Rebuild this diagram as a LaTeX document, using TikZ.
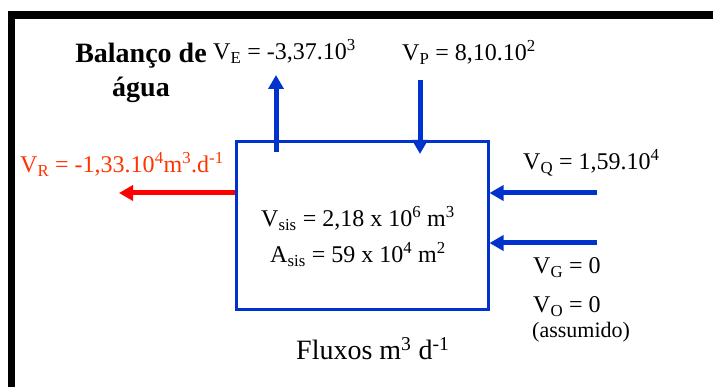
\documentclass[tikz,border=0pt]{standalone}
\usepackage{fontspec}
\setmainfont{Liberation Serif}
\usetikzlibrary{arrows.meta}
\definecolor{lakeblue}{RGB}{0,51,204}
\definecolor{outred}{RGB}{255,0,0}
\definecolor{labelred}{RGB}{255,51,0}
\newcommand{\sub}[1]{\textsubscript{#1}}
\newcommand{\sups}[1]{\textsuperscript{#1}}

\begin{document}
\begin{tikzpicture}[x=1pt,y=-1pt,
    inflow/.style={line width=5pt,draw=lakeblue,-{Triangle[width=15pt,length=14pt]}},
    outflow/.style={line width=5pt,draw=outred,-{Triangle[width=15pt,length=14pt]}},
    lbl/.style={anchor=base west},
    big/.style={font=\fontsize{28}{34}\selectfont}]
		\tikzstyle{every node}=[inner sep=0pt,font=\fontsize{24}{29}\selectfont]
		\useasboundingbox (0,0) rectangle (713,387);
		% frame
		\draw[line width=7.5pt] (11.5,387) -- (11.5,15) -- (713,15);
		% the system
		\node[draw=lakeblue,line width=3pt,minimum width=252pt,minimum height=168pt] (sis) at (362,226) {};
		\node[anchor=base] (vsis) at (358,227) {V\sub{sis} = 2,18 x 10\sups{6} m\sups{3}};
		\node[anchor=base] (asis) at (358,263) {A\sub{sis} = 59 x 10\sups{4} m\sups{2}};
		% labels
		\node[anchor=base,align=center,font=\bfseries\fontsize{28}{34}\selectfont] (title) at (141,97) {Balanço de\\água};
		\node[lbl] (ve) at (213,60) {V\sub{E} = -3,37.10\sups{3}};
		\node[lbl] (vp) at (402,61) {V\sub{P} = 8,10.10\sups{2}};
		\node[lbl,text=labelred] (vr) at (20,173) {V\sub{R} = -1,33.10\sups{4}m\sups{3}.d\sups{-1}};
		\node[lbl] (vq) at (523,170) {V\sub{Q} = 1,59.10\sups{4}};
		\node[lbl] (vg) at (533,274) {V\sub{G} = 0};
		\node[lbl] (vo) at (533,313) {V\sub{O} = 0};
		\node[lbl,font=\fontsize{22}{26}\selectfont] (assum) at (532,338) {(assumido)};
		\node[lbl,big] (fluxos) at (296,360) {Fluxos m\sups{3} d\sups{-1}};
		% flow ends
		\coordinate (veStart) at (276,152);
		\coordinate (veEnd) at (276,75);
		\coordinate (vpStart) at (420,80);
		\coordinate (vpEnd) at (420,154);
		\coordinate (vrEnd) at (119,193);
		\coordinate (vqStart) at (597,193);
		\coordinate (vgStart) at (597,243);
		% flows
		\draw[inflow] (veStart) -- (veEnd);
		\draw[inflow] (vpStart) -- (vpEnd);
		\draw[outflow] (sis.west |- vrEnd) -- (vrEnd);
		\draw[inflow] (vqStart) -- (sis.east |- vqStart);
		\draw[inflow] (vgStart) -- (sis.east |- vgStart);
	\end{tikzpicture}
\end{document}
